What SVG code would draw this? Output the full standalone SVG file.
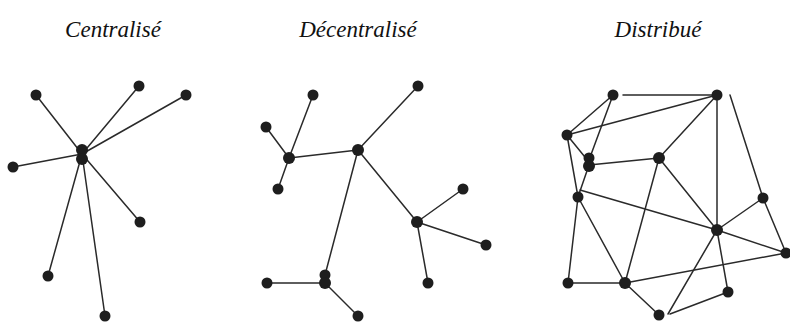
<svg xmlns="http://www.w3.org/2000/svg" width="790" height="324" viewBox="0 0 790 324">
<style>
.t{font-family:"Liberation Serif","Times New Roman",serif;font-style:italic;font-size:23px;fill:#111;text-anchor:middle}
.e line{stroke:#2a2a2a;stroke-width:1.5;stroke-linecap:round}
circle{fill:#1e1e1e}
</style>
<rect width="790" height="324" fill="#fff"/>
<g id="titles">
<text class="t" x="113" y="37">Centralisé</text>
<text class="t" x="358" y="37">Décentralisé</text>
<text class="t" x="658" y="37">Distribué</text>
</g>
<g id="connectors" class="e">
<!-- centralised -->
<line x1="82" y1="154" x2="36" y2="95"/>
<line x1="82" y1="154" x2="139" y2="86"/>
<line x1="82" y1="154" x2="186" y2="95"/>
<line x1="82" y1="154" x2="13" y2="167"/>
<line x1="82" y1="154" x2="140" y2="222"/>
<line x1="82" y1="154" x2="48" y2="276"/>
<line x1="82" y1="154" x2="105" y2="316"/>
<!-- decentralised -->
<line x1="289" y1="158" x2="313" y2="95"/>
<line x1="289" y1="158" x2="266" y2="127"/>
<line x1="289" y1="158" x2="278" y2="189"/>
<line x1="289" y1="158" x2="358" y2="150"/>
<line x1="358" y1="150" x2="418" y2="86"/>
<line x1="358" y1="150" x2="417" y2="222"/>
<line x1="358" y1="150" x2="325" y2="275"/>
<line x1="417" y1="222" x2="463" y2="189"/>
<line x1="417" y1="222" x2="486" y2="245"/>
<line x1="417" y1="222" x2="428" y2="283"/>
<line x1="325" y1="283" x2="267" y2="283"/>
<line x1="325" y1="283" x2="358" y2="316"/>
<!-- distributed -->
<line x1="623" y1="95" x2="717" y2="95"/>
<line x1="613" y1="95" x2="567" y2="135"/>
<line x1="567" y1="135" x2="717" y2="95"/>
<line x1="613" y1="95" x2="589" y2="160"/>
<line x1="567" y1="135" x2="589" y2="162"/>
<line x1="567" y1="135" x2="578" y2="197"/>
<line x1="589" y1="165" x2="659" y2="158"/>
<line x1="589" y1="165" x2="578" y2="197"/>
<line x1="659" y1="158" x2="717" y2="95"/>
<line x1="717" y1="95" x2="717" y2="230"/>
<line x1="730" y1="95" x2="763" y2="198"/>
<line x1="763" y1="198" x2="717" y2="230"/>
<line x1="763" y1="198" x2="786" y2="253"/>
<line x1="580" y1="190" x2="717" y2="230"/>
<line x1="717" y1="230" x2="786" y2="253"/>
<line x1="659" y1="158" x2="717" y2="230"/>
<line x1="659" y1="158" x2="625" y2="283"/>
<line x1="578" y1="197" x2="568" y2="283"/>
<line x1="578" y1="197" x2="625" y2="283"/>
<line x1="568" y1="283" x2="625" y2="283"/>
<line x1="625" y1="283" x2="786" y2="253"/>
<line x1="625" y1="283" x2="659" y2="315"/>
<line x1="717" y1="230" x2="668" y2="314"/>
<line x1="717" y1="230" x2="728" y2="292"/>
<line x1="670" y1="314" x2="728" y2="292"/>
</g>
<g id="n-centralise">
<circle cx="82" cy="150" r="6"/><circle cx="82" cy="159" r="6"/>
<circle cx="36" cy="95" r="5.5"/>
<circle cx="139" cy="86" r="5.5"/>
<circle cx="186" cy="95" r="5.5"/>
<circle cx="13" cy="167" r="5.5"/>
<circle cx="140" cy="222" r="5.5"/>
<circle cx="48" cy="276" r="5.5"/>
<circle cx="105" cy="316" r="5.5"/>
</g>
<g id="n-decentralise">
<circle cx="313" cy="95" r="5.5"/>
<circle cx="418" cy="86" r="5.5"/>
<circle cx="266" cy="127" r="5.5"/>
<circle cx="289" cy="158" r="6"/>
<circle cx="358" cy="150" r="6"/>
<circle cx="278" cy="189" r="5.5"/>
<circle cx="463" cy="189" r="5.5"/>
<circle cx="417" cy="222" r="6"/>
<circle cx="486" cy="245" r="5.5"/>
<circle cx="428" cy="283" r="5.5"/>
<circle cx="325" cy="275" r="5.5"/><circle cx="325" cy="283" r="6"/>
<circle cx="267" cy="283" r="5.5"/>
<circle cx="358" cy="316" r="5.5"/>
</g>
<g id="n-distribue">
<circle cx="613" cy="95" r="5.5"/>
<circle cx="717" cy="95" r="5.5"/>
<circle cx="567" cy="135" r="5.5"/>
<circle cx="589" cy="158" r="5.5"/><circle cx="589" cy="166" r="6"/>
<circle cx="659" cy="158" r="6"/>
<circle cx="578" cy="197" r="5.5"/>
<circle cx="763" cy="198" r="5.5"/>
<circle cx="717" cy="230" r="6"/>
<circle cx="786" cy="253" r="5.5"/>
<circle cx="568" cy="283" r="5.5"/>
<circle cx="625" cy="283" r="6"/>
<circle cx="728" cy="292" r="5.5"/>
<circle cx="659" cy="315" r="5.5"/>
</g>
</svg>
